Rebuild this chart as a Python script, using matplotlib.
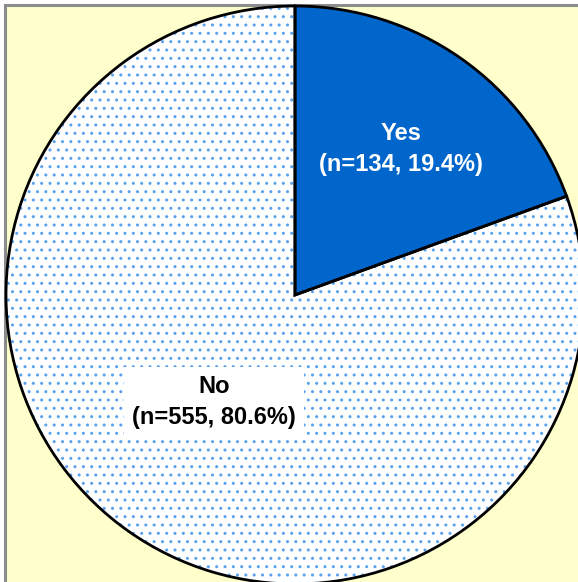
import matplotlib
matplotlib.use("Agg")
import matplotlib.pyplot as plt
from matplotlib.patches import Rectangle

labels = ["Yes", "No"]
counts = [134, 555]
percents = [19.4, 80.6]

plt.rcParams['font.family'] = ['Liberation Sans', 'DejaVu Sans']
plt.rcParams['hatch.linewidth'] = 1.0

W, H = 578, 582
fig = plt.figure(figsize=(W / 100, H / 100), dpi=100, facecolor="white")
ax = fig.add_axes([0, 0, 1, 1])

# plot area background and frame
ax.add_patch(Rectangle((5, -10), W + 20, H - 5 + 10, facecolor="#FFFFCC",
                       edgecolor="#8C8C8C", linewidth=2.2, zorder=0))

center = (295, H - 295)
radius = 289

# fill layer
w1, _ = ax.pie(counts, startangle=90, counterclock=False, center=center,
               radius=radius, colors=["#0066CC", "white"],
               wedgeprops=dict(linewidth=0), frame=True)
w1[1].set_hatch("..")
w1[1].set_edgecolor("#5AA2EE")
w1[1].set_linewidth(0)
for w in w1:
    w.set_zorder(1)

# outline layer
w2, _ = ax.pie(counts, startangle=90, counterclock=False, center=center,
               radius=radius, colors=["none", "none"],
               wedgeprops=dict(linewidth=2, edgecolor="black", fill=False), frame=True)
for w in w2:
    w.set_zorder(2)

ax.set_xlim(0, W)
ax.set_ylim(0, H)
ax.axis("off")

ax.text(401, H - 149, f"{labels[0]}\n(n={counts[0]}, {percents[0]}%)", color="white",
        fontsize=17, fontweight="bold", ha="center", va="center",
        linespacing=1.42, zorder=3)
ax.text(214, H - 402, f"{labels[1]}\n(n={counts[1]}, {percents[1]}%)", color="black",
        fontsize=17, fontweight="bold", ha="center", va="center",
        linespacing=1.42, zorder=3,
        bbox=dict(boxstyle="square,pad=0.33", facecolor="white", edgecolor="none"))

fig.savefig("out.png", dpi=100, facecolor="white")
